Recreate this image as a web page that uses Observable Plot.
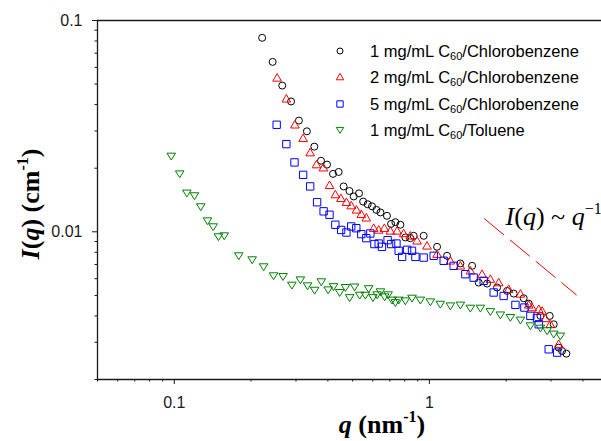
<!DOCTYPE html>
<html><head><meta charset="utf-8">
<script src="https://cdn.jsdelivr.net/npm/d3@7"></script>
<script src="https://cdn.jsdelivr.net/npm/@observablehq/plot@0.6"></script>
<style>
html,body{margin:0;padding:0;background:#fff;overflow:hidden}
#wrap{position:relative;width:601px;height:441px}
.ov{position:absolute;white-space:nowrap}
.leg{font-family:"Liberation Sans",Arial,sans-serif;font-size:16.5px;color:#000;transform:translateY(-50%)}
.leg .sub{font-size:11px;position:relative;top:3px}
.title{font-family:"Liberation Serif","Times New Roman",serif;font-weight:bold;font-size:26px;color:#000}
.title sup{font-size:16px;position:relative;top:-2px}
</style></head><body><div id="wrap"></div>
<script>
// ---- data (q in nm^-1, I in cm^-1) ----
const cb1_q = [0.221,0.243,0.265,0.287,0.308,0.331,0.354,0.376,0.397,0.419,0.441,0.461,0.486,0.505,0.530,0.550,0.573,0.596,0.620,0.643,0.682,0.708,0.736,0.770,0.805,0.842,0.868,0.950,1.072,1.173,1.323,1.471,1.561,1.684,1.843,2.017,2.141,2.343,2.452,2.725,2.964,3.073,3.214,3.314,3.445];
const cb1_I = [0.0828,0.0637,0.0492,0.0414,0.0336,0.0299,0.0253,0.0217,0.0208,0.0188,0.0192,0.0164,0.0156,0.0147,0.0152,0.0139,0.0135,0.0132,0.0127,0.01235,0.0119,0.0109,0.0111,0.0108,0.0094,0.00933,0.00957,0.00957,0.00849,0.00770,0.00708,0.00690,0.00575,0.00569,0.00545,0.00525,0.00510,0.00485,0.00457,0.00400,0.00400,0.00365,0.00283,0.00273,0.00265];

const cb2_q = [0.253,0.275,0.297,0.320,0.341,0.361,0.384,0.406,0.428,0.450,0.473,0.494,0.518,0.541,0.566,0.605,0.633,0.666,0.703,0.747,0.793,0.842,0.895,0.979,1.072,1.209,1.323,1.448,1.609,1.734,1.870,2.046,2.275,2.452,2.528,2.684,2.767,2.851,2.982,3.214];
const cb2_I = [0.0535,0.0426,0.0321,0.0277,0.0237,0.0208,0.0201,0.0166,0.0150,0.0144,0.0138,0.0133,0.0127,0.0121,0.01165,0.0104,0.0102,0.0104,0.0101,0.0101,0.00982,0.00957,0.00906,0.00858,0.00784,0.00729,0.00690,0.00654,0.00630,0.00597,0.00575,0.00535,0.00508,0.00451,0.00438,0.00430,0.00422,0.00389,0.00365,0.00294];

const cb5_q = [0.252,0.275,0.296,0.320,0.341,0.363,0.385,0.406,0.428,0.451,0.473,0.494,0.517,0.541,0.566,0.587,0.609,0.633,0.652,0.686,0.708,0.743,0.758,0.782,0.818,0.855,0.882,0.950,1.040,1.138,1.245,1.384,1.492,1.633,1.787,1.956,2.175,2.358,2.489,2.641,2.684,2.937,3.168];
const cb5_I = [0.0321,0.0260,0.0213,0.0186,0.0164,0.0138,0.0125,0.01204,0.0108,0.0102,0.00992,0.0106,0.0104,0.00975,0.00933,0.00982,0.00875,0.00880,0.00849,0.00913,0.00875,0.00880,0.00813,0.00761,0.00822,0.00813,0.00761,0.00755,0.00770,0.00729,0.00690,0.00630,0.00607,0.00586,0.00516,0.00497,0.00451,0.00438,0.00400,0.00391,0.00365,0.00278,0.00268];

const tol_q = [0.0973,0.105,0.112,0.120,0.127,0.135,0.142,0.149,0.157,0.179,0.202,0.224,0.245,0.267,0.289,0.312,0.333,0.355,0.377,0.401,0.421,0.445,0.469,0.487,0.509,0.533,0.561,0.578,0.601,0.624,0.643,0.668,0.689,0.714,0.736,0.758,0.805,0.855,0.922,1.009,1.104,1.209,1.323,1.448,1.585,1.734,1.898,2.078,2.275,2.489,2.725,2.894,3.073,3.264];
const tol_I = [0.0228,0.0188,0.01525,0.01481,0.01314,0.01127,0.01056,0.00947,0.00957,0.00770,0.00737,0.00683,0.00619,0.00614,0.00559,0.00592,0.00555,0.00529,0.00580,0.00531,0.00550,0.00516,0.00545,0.00488,0.00548,0.00501,0.00501,0.00538,0.00488,0.00503,0.00520,0.00492,0.00503,0.00475,0.00462,0.00475,0.00471,0.00485,0.00475,0.00466,0.00454,0.00446,0.00450,0.00435,0.00435,0.00419,0.00404,0.00393,0.00382,0.00359,0.00350,0.00340,0.00328,0.00321];

const legendConc = ["1 mg/mL", "2 mg/mL", "5 mg/mL", "1 mg/mL"];
const legendSolvent = ["Chlorobenzene", "Chlorobenzene", "Chlorobenzene", "Toluene"];
const colors = ["#000000", "#ff0000", "#0000ff", "#008000"];

const slope_q = [1.644, 3.77];
const slope_I = [0.01153, 0.00503];
const note_q = [1.99];
const note_I = [0.01079];

const xDomain = [0.05, 4.73];
const yDomain = [0.002, 0.1];
const xMajor = [0.1, 1];
const xMinor = [0.05,0.06,0.07,0.08,0.09,0.2,0.3,0.4,0.5,0.6,0.7,0.8,0.9,2,3,4];
const yMajor = [0.01, 0.1];
const yMinor = [0.002,0.003,0.004,0.005,0.006,0.007,0.008,0.009,0.02,0.03,0.04,0.05,0.06,0.07,0.08,0.09];

// ---- custom symbols ----
const triUp = {draw(c, size){const r=Math.sqrt(size/Math.PI);c.moveTo(0,-r);c.lineTo(r,0.75*r);c.lineTo(-r,0.75*r);c.closePath();}};
const triDown = {draw(c, size){const r=Math.sqrt(size/Math.PI);c.moveTo(-r,-0.7*r);c.lineTo(r,-0.7*r);c.lineTo(0,0.9*r);c.closePath();}};
const sq = {draw(c, size){const r=Math.sqrt(size/Math.PI)*0.875;c.moveTo(-r,-r);c.lineTo(r,-r);c.lineTo(r,r);c.lineTo(-r,r);c.closePath();}};
const symbols = ["circle", triUp, sq, triDown];
const radii = [3.5, 4.3, 4.2, 4.3];

const zip = (q, I) => q.map((v, i) => ({q: v, I: I[i]}));
const sets = [zip(cb1_q, cb1_I), zip(cb2_q, cb2_I), zip(cb5_q, cb5_I), zip(tol_q, tol_I)];

const ink = "#1a1a1a";
const tickFont = {fontSize: 16, fontFamily: "'Liberation Sans', Arial, sans-serif"};
const plot = Plot.plot({
  width: 601, height: 441,
  marginLeft: 97, marginRight: 0, marginTop: 20, marginBottom: 62,
  style: {fontFamily: "'Liberation Sans', Arial, sans-serif", fontSize: "16px", color: ink, background: "#fff"},
  x: {type: "log", domain: xDomain},
  y: {type: "log", domain: yDomain},
  marks: [
    Plot.axisX(xMinor, {tickSize: 2.5, tickFormat: () => "", label: null}),
    Plot.axisX(xMajor, {tickSize: 5, tickPadding: 12, tickFormat: d => String(d), label: null, ...tickFont}),
    Plot.axisY(yMinor, {tickSize: 2.5, tickFormat: () => "", label: null}),
    Plot.axisY(yMajor, {tickSize: 5, tickPadding: 10, tickFormat: d => String(d), label: null, ...tickFont}),
    Plot.ruleY([yDomain[0]], {stroke: ink, strokeWidth: 1.3}),
    Plot.ruleY([yDomain[1]], {stroke: ink, strokeWidth: 1.3}),
    Plot.ruleX([xDomain[0]], {stroke: ink, strokeWidth: 1.3}),
    Plot.line(zip(slope_q, slope_I), {x: "q", y: "I", stroke: "#ff0000", strokeWidth: 1, strokeDasharray: "25,8.5"}),
    Plot.text(zip(note_q, note_I), {x: "q", y: "I", text: () => "I(q) ~ q", textAnchor: "start", lineAnchor: "bottom", fontFamily: "'Liberation Serif','Times New Roman',serif", fontSize: 26, fill: "#000"}),
    ...sets.map((d, k) => Plot.dot(d, {x: "q", y: "I", symbol: symbols[k], r: radii[k], stroke: colors[k], fill: "none", strokeWidth: 1}))
  ]
});

// style the annotation with italic variables and superscript
d3.select(plot).selectAll("g[aria-label=text] text").each(function(){
  const t = d3.select(this);
  t.text(null);
  t.append("tspan").attr("font-style","italic").text("I");
  t.append("tspan").text("(");
  t.append("tspan").attr("font-style","italic").text("q");
  t.append("tspan").text(") ~ ");
  t.append("tspan").attr("font-style","italic").text("q");
  t.append("tspan").attr("font-size","16px").attr("dy","-11").text("\u22121");
});

const wrap = d3.select("#wrap");
wrap.node().appendChild(plot);

// legend
legendConc.forEach((c, i) => {
  const cy = 51 + i * 26.4;
  const s = wrap.append("svg").attr("class","ov").attr("width",14).attr("height",14)
    .style("left", (340-7)+"px").style("top", (cy-7)+"px");
  const g = s.append("g").attr("transform","translate(7,7)");
  if (i === 0) g.append("circle").attr("r", 3).attr("fill","none").attr("stroke", colors[i]);
  else g.append("path").attr("d", d3.symbol(symbols[i], Math.PI*radii[i]*radii[i]*0.75)()).attr("fill","none").attr("stroke", colors[i]);
  const row = wrap.append("div").attr("class","ov leg").style("left","370px").style("top", cy+"px");
  row.html(`${c} C<span class="sub">60</span>/${legendSolvent[i]}`);
});

// axis titles
wrap.append("div").attr("class","ov title")
  .style("left","382px").style("top","425px").style("transform","translate(-50%,-50%)")
  .html(`<i>q</i> (nm<sup>-1</sup>)`);
wrap.append("div").attr("class","ov title")
  .style("left","31px").style("top","204px").style("transform","translate(-50%,-50%) rotate(-90deg)")
  .html(`<i>I</i>(<i>q</i>) (cm<sup>-1</sup>)`);
</script></body></html>
